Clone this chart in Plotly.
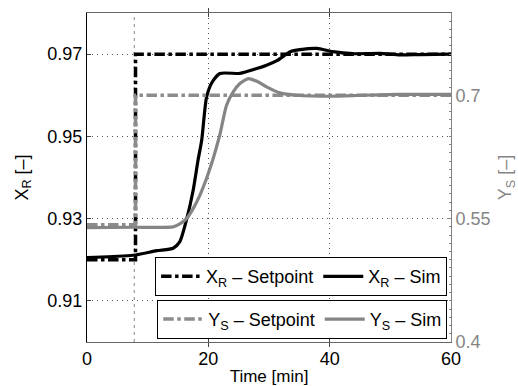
import plotly.graph_objects as go

# ---- data ----
t_sp = [0, 8, 8, 60]
xr_sp = [0.92, 0.92, 0.97, 0.97]
ys_sp = [0.5425, 0.5425, 0.70, 0.70]

t_xr = [0, 7.6, 11.5, 14.2, 15.3, 16.4, 17.5, 18.3, 18.9, 19.7, 20.6, 21.9, 25.2, 26.9,
        29.6, 31.3, 33.5, 35.1, 37.9, 40.5, 43.8, 48.3, 51.6, 54.9, 60]
xr_sim = [0.9205, 0.9211, 0.9222, 0.9228, 0.9244, 0.9297, 0.9369, 0.9442, 0.9490, 0.9595,
          0.9631, 0.9653, 0.9653, 0.9660, 0.9673, 0.9684, 0.9706, 0.9711, 0.9714, 0.9706,
          0.9701, 0.9702, 0.9698, 0.9699, 0.9700]

t_ys = [0, 7.6, 14.2, 15.3, 16.4, 17.5, 18.6, 19.7, 20.8, 21.9, 23.0, 24.1, 25.2, 26.6,
        28.0, 29.6, 31.8, 34.6, 40.1, 45.5, 51.0, 60]
ys_sim = [0.539, 0.5395, 0.540, 0.5435, 0.550, 0.5622, 0.5783, 0.5987, 0.623, 0.652,
          0.6878, 0.7041, 0.7142, 0.7203, 0.717, 0.7102, 0.7029, 0.700, 0.6988, 0.700,
          0.701, 0.701]

x_ticks = [0, 20, 40, 60]
left_ticks = [0.91, 0.93, 0.95, 0.97]
right_tick0 = 0.4
right_dtick = 0.15
t_step = 7.8

GRAY = "#858585"
FONT = "Liberation Sans, Arial, sans-serif"

fig = go.Figure()

# step marker line
fig.add_trace(go.Scatter(x=[t_step, t_step], y=[0.90, 0.98], mode="lines",
                         line=dict(color="#9a9a9a", width=1.2, dash="3px,4px"),
                         showlegend=False, hoverinfo="skip"))

fig.add_trace(go.Scatter(x=t_sp, y=xr_sp, mode="lines", name="X<sub>R</sub> – Setpoint",
                         line=dict(color="black", width=3.5, dash="dashdot"), legend="legend"))
fig.add_trace(go.Scatter(x=t_xr, y=xr_sim, mode="lines", name="X<sub>R</sub> – Sim",
                         line=dict(color="black", width=3.2, shape="spline", smoothing=0.6),
                         legend="legend"))
fig.add_trace(go.Scatter(x=t_sp, y=ys_sp, mode="lines", name="Y<sub>S</sub> – Setpoint",
                         line=dict(color="#8c8c8c", width=3.5, dash="dashdot"),
                         yaxis="y2", legend="legend2"))
fig.add_trace(go.Scatter(x=t_ys, y=ys_sim, mode="lines", name="Y<sub>S</sub> – Sim",
                         line=dict(color=GRAY, width=3.2, shape="spline", smoothing=0.6),
                         yaxis="y2", legend="legend2"))

legend_common = dict(orientation="h", bgcolor="white", bordercolor="black", borderwidth=1,
                     font=dict(family=FONT, size=18, color="black"),
                     xanchor="left", yanchor="top", itemclick=False,
                     tracegroupgap=0, itemwidth=40)

fig.update_layout(
    width=518, height=386,
    margin=dict(l=87, r=67, t=13, b=44),
    paper_bgcolor="white", plot_bgcolor="white",
    font=dict(family=FONT, size=18, color="black"),
    xaxis=dict(range=[0, 60], tickvals=x_ticks, ticks="inside", ticklen=4,
               showline=True, linecolor="#666", linewidth=1, mirror="allticks",
               showgrid=True, gridcolor="#555", griddash="1px,4px", gridwidth=1,
               zeroline=False, automargin=False,
               title=dict(text="Time [min]", font=dict(size=17), standoff=2),
               tickfont=dict(size=18)),
    yaxis=dict(range=[0.90, 0.98], tickvals=left_ticks, ticks="inside", ticklen=4,
               showline=True, linecolor="black", linewidth=1, mirror=True,
               showgrid=True, gridcolor="#555", griddash="1px,4px", gridwidth=1,
               zeroline=False, automargin=False,
               title=dict(text="X<sub>R</sub> [–]", font=dict(size=18), standoff=14),
               tickfont=dict(size=18)),
    yaxis2=dict(range=[0.4, 0.8], tickmode="linear", tick0=right_tick0, dtick=right_dtick,
                overlaying="y", side="right",
                ticks="inside", ticklen=4, tickcolor=GRAY,
                showline=True, linecolor=GRAY, linewidth=1,
                showgrid=False, zeroline=False, automargin=False,
                minor=dict(ticks="inside", ticklen=2, tickcolor=GRAY, dtick=0.01, showgrid=False),
                tickfont=dict(size=18, color=GRAY),
                title=dict(text="Y<sub>S</sub> [–]", font=dict(size=18, color=GRAY), standoff=9)),
    legend=dict(x=0.187, y=0.258, **legend_common),
    legend2=dict(x=0.193, y=0.128, **legend_common),
)

fig.write_html("out.html", config={"displayModeBar": False},
               post_script="document.body.style.margin='0';")
